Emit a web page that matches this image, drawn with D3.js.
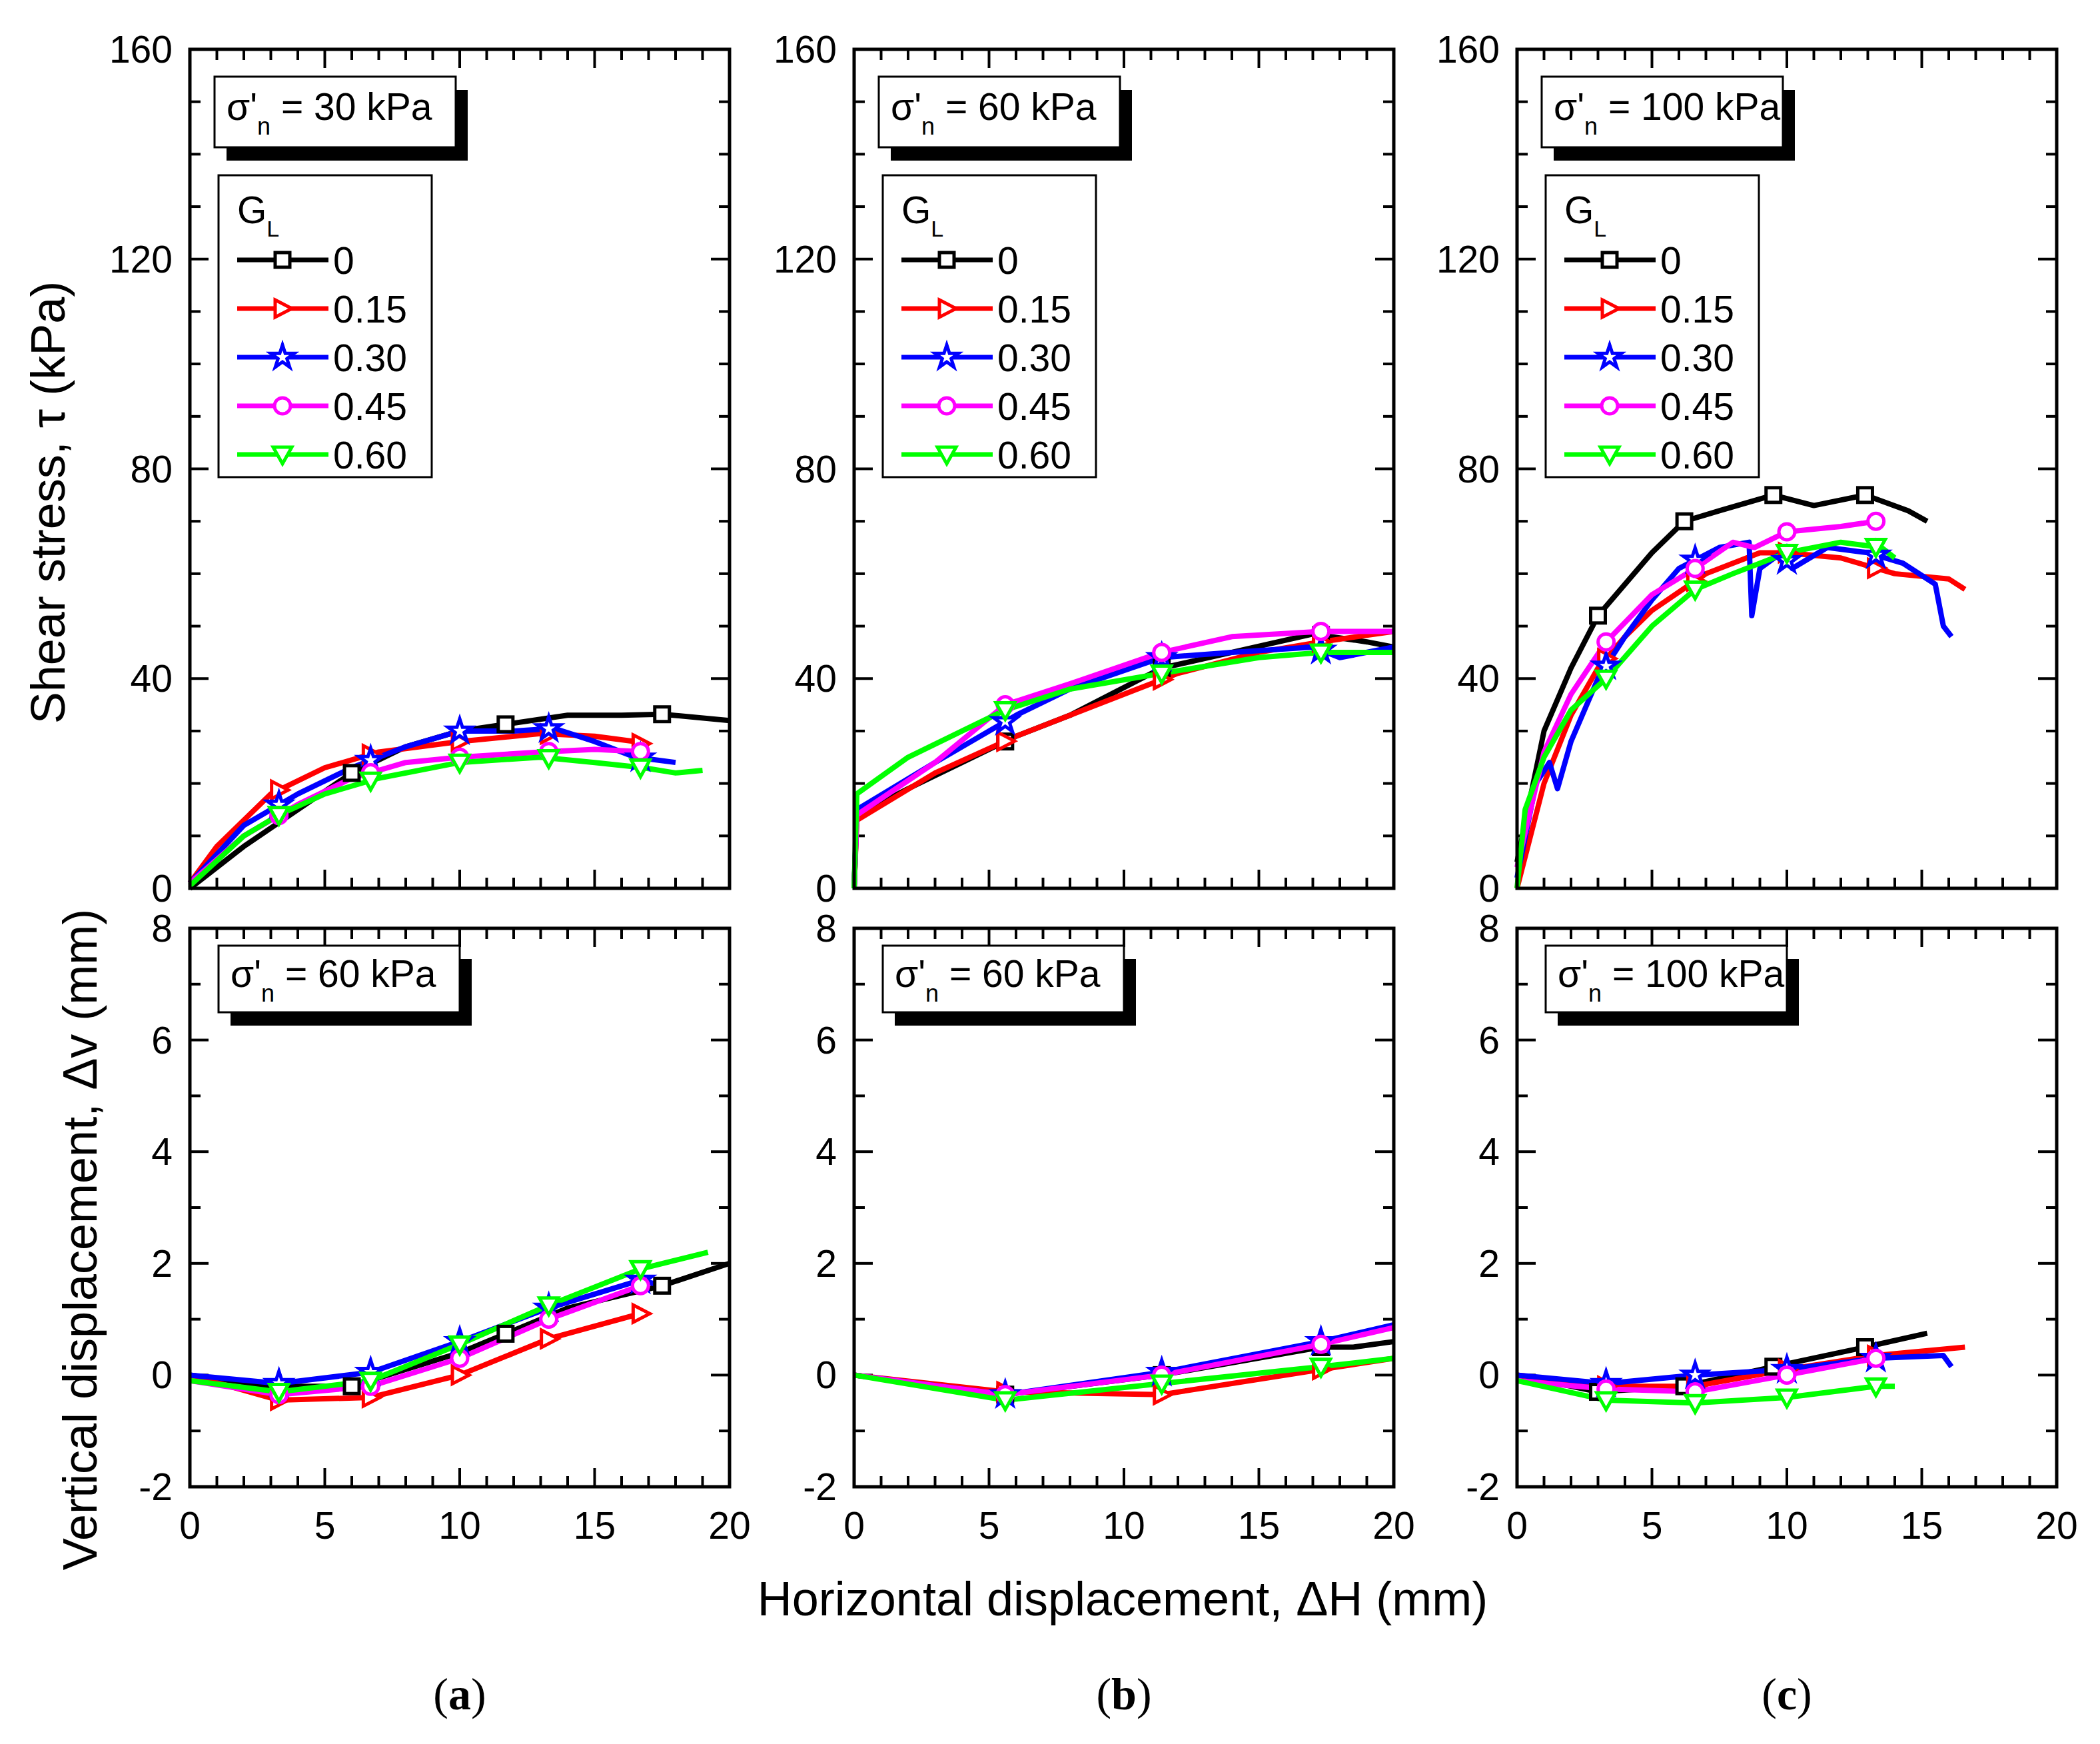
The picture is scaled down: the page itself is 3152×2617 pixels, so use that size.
<!DOCTYPE html>
<html><head><meta charset="utf-8">
<script src="https://cdn.jsdelivr.net/npm/d3@7"></script>
<style>body{margin:0;background:#fff}text{font-family:"Liberation Sans",Arial,sans-serif}</style>
</head><body>
<svg id="chart" width="3152" height="2617"></svg>
<script>
// series meta
const gl = ["0", "0.15", "0.30", "0.45", "0.60"];
const colors = ["#000000", "#ff0000", "#0000ff", "#ff00ff", "#00ff00"];
const symbols = ["square", "triR", "star", "circle", "triD"];
const panelLetters = ["a", "b", "c"];
const stressLabels = ["30", "60", "100"];
const bottomLabels = ["60", "60", "100"];

// shear stress curves [x, tau]
const tauA = [
  [[0,0],[2,8],[4,15],[6,22],[8,27],[10,30],[12,31.5],[14,33],[16,33],[17.5,33.2],[20,32]],
  [[0,1],[1,8],[3,18],[5,23],[7,26],[10,28],[13,29.5],[15,29],[16.5,28],[17,27]],
  [[0,1],[2,12],[4,18],[6,23],[8,27],[10,30],[12,30],[13.5,30.5],[15,28],[16.5,25],[18,24]],
  [[0,1],[2,10],[4,16],[6,21],[8,24],[10,25],[13,26],[15,26.5],[17,26]],
  [[0,0.5],[2,10],[3.3,14],[5,18],[7,21],[10,24],[13,25],[15,24],[16.8,23],[18,22],[19,22.5]]
];
const tauB = [
  [[0,0],[0.1,14],[2,19],[4,24],[6,29],[8,33],[11.4,42],[14,45],[17,48.5],[19,47],[20,46]],
  [[0,0],[0.1,13],[3,22],[6,29],[9,35],[12,41],[15,45],[17.3,47],[20,49]],
  [[0,0],[0.1,15],[3,24],[6,33],[8,38],[11.4,44],[14,45],[17,46],[18,44],[20,46]],
  [[0,0],[0.1,14],[3,24],[5.6,35],[8,39],[11.4,45],[14,48],[17.3,49],[20,49]],
  [[0,0],[0.1,18],[2,25],[4,30],[5.6,34],[8,38],[11.4,41],[15,44],[17.3,45],[20,45]]
];
const tauC = [
  [[0,5],[1,30],[2,42],[3,52],[4,58],[5,64],[6.2,70],[7.5,72],[9.5,75],[11,73],[12.9,75],[14.5,72],[15.2,70]],
  [[0,0],[1,20],[2,33],[3,42],[4,48],[5,53],[7,60],[9,64],[10,64],[12,63],[14,60],[16,59],[16.6,57]],
  [[0,2],[0.7,20],[1.2,24],[1.5,19],[2,28],[3,40],[4,48],[5,55],[6,61],[7.5,65],[8.6,66],[8.7,52],[9,61],[9.8,64],[10.2,61],[11.5,65],[13,64],[14.3,62],[15.5,58],[15.8,50],[16.1,48]],
  [[0,4],[1,26],[2,37],[3.3,47],[5,56],[6.6,61],[8,66],[8.8,65],[10,68],[12,69],[13.3,70]],
  [[0,0],[0.3,15],[1,25],[2,34],[3.3,40],[5,50],[6.6,57],[8,60],[10,64],[12,66],[13.5,65],[14,63]]
];
// vertical displacement curves [x, dv]
const dvA = [
  [[0,0],[3,-0.2],[6,-0.2],[8,0.1],[10,0.4],[12,0.8],[14,1.2],[17.5,1.6],[20,2.0]],
  [[0,0],[3.3,-0.45],[6.7,-0.4],[10,0],[13.3,0.65],[16.7,1.1]],
  [[0,0],[3.3,-0.15],[6.7,0.05],[10,0.6],[13.3,1.2],[16.7,1.7],[17.5,1.6]],
  [[0,-0.1],[3.3,-0.35],[6.7,-0.2],[10,0.3],[13.3,1.0],[16.7,1.6]],
  [[0,-0.1],[3.3,-0.3],[6.7,-0.1],[10,0.55],[13.3,1.25],[16.7,1.9],[19.2,2.2]]
];
const dvB = [
  [[0,0],[5.6,-0.35],[11.4,0],[17.3,0.5],[18.5,0.5],[20,0.6]],
  [[0,0],[5.6,-0.3],[11.4,-0.35],[17.3,0.1],[20,0.3]],
  [[0,0],[5.6,-0.35],[11.4,0.05],[17.3,0.6],[20,0.9]],
  [[0,0],[5.6,-0.35],[11.4,0],[17.3,0.55],[20,0.85]],
  [[0,0],[5.6,-0.45],[11.4,-0.15],[17.3,0.15],[20,0.3]]
];
const dvC = [
  [[0,0],[3,-0.3],[6.2,-0.2],[9.5,0.15],[12.9,0.5],[15.2,0.75]],
  [[0,0],[3.3,-0.2],[6.6,-0.2],[10,0.1],[13.3,0.35],[16.6,0.5]],
  [[0,0],[3.3,-0.15],[6.6,0],[10,0.1],[13.3,0.3],[15.8,0.35],[16.1,0.15]],
  [[0,-0.1],[3.3,-0.25],[6.6,-0.3],[10,0],[13.3,0.3]],
  [[0,-0.1],[3.3,-0.45],[6.6,-0.5],[10,-0.4],[13.3,-0.2],[14,-0.2]]
];
// marker x positions per panel and series
const markA = [[6,11.7,17.5],[3.3,6.7,10,13.3,16.7],[3.3,6.7,10,13.3,16.7],[3.3,6.7,10,13.3,16.7],[3.3,6.7,10,13.3,16.7]];
const markB = [[5.6,11.4,17.3],[5.6,11.4,17.3],[5.6,11.4,17.3],[5.6,11.4,17.3],[5.6,11.4,17.3]];
const markC = [[3,6.2,9.5,12.9],[3.3,6.6,10,13.3],[3.3,6.6,10,13.3],[3.3,6.6,10,13.3],[3.3,6.6,10,13.3]];

const tauSets = [tauA, tauB, tauC];
const dvSets = [dvA, dvB, dvC];
const markSets = [markA, markB, markC];

const svg = d3.select("#chart");
const panelX = [285, 1282, 2277];
const pw = 810;
const topY = 74, topH = 1259;
const botY = 1393, botH = 838;

function interp(pts, x) {
  for (let i = 1; i < pts.length; i++) {
    if (x <= pts[i][0]) {
      const a = pts[i-1], b = pts[i];
      return a[1] + (b[1]-a[1]) * (x-a[0]) / (b[0]-a[0]);
    }
  }
  return pts[pts.length-1][1];
}

function marker(g, type, x, y, color) {
  const s = 11;
  let el;
  if (type === "square") el = g.append("rect").attr("x", x-s).attr("y", y-s).attr("width", 2*s).attr("height", 2*s);
  else if (type === "circle") el = g.append("circle").attr("cx", x).attr("cy", y).attr("r", s+1);
  else if (type === "triR") el = g.append("path").attr("d", `M${x-s},${y-s-2}L${x+s+3},${y}L${x-s},${y+s+2}Z`);
  else if (type === "triD") el = g.append("path").attr("d", `M${x-s-3},${y-s}L${x+s+3},${y-s}L${x},${y+s+3}Z`);
  else el = g.append("path").attr("d", d3.symbol(d3.symbolStar, 380)()).attr("transform", `translate(${x},${y})`);
  el.attr("fill", "white").attr("stroke", color).attr("stroke-width", 5);
}

function sigmaText(g, x, y, val) {
  const t = g.append("text").attr("x", x).attr("y", y).attr("font-size", 57);
  t.append("tspan").text("σ'");
  t.append("tspan").attr("font-size", 36).attr("dy", 22).text("n");
  t.append("tspan").attr("dy", -22).text(" = " + val + " kPa");
}

function labelBox(g, x, y, w, h, val) {
  g.append("rect").attr("x", x+18).attr("y", y+20).attr("width", w).attr("height", h).attr("fill", "black");
  g.append("rect").attr("x", x).attr("y", y).attr("width", w).attr("height", h).attr("fill", "white").attr("stroke", "black").attr("stroke-width", 3);
  sigmaText(g, x+18, y+h/2+12, val);
}

function drawPanel(px, py, ph, ydom, yMajor, yMinor, series, marks, isTop) {
  const x = d3.scaleLinear().domain([0, 20]).range([px, px+pw]);
  const y = d3.scaleLinear().domain(ydom).range([py+ph, py]);
  const g = svg.append("g");
  // ticks on all four sides, inward
  const tk = g.append("g").attr("stroke", "black").attr("stroke-width", 4);
  d3.range(0, 21, 1).forEach(v => {
    const L = v % 5 === 0 ? 28 : 16;
    tk.append("line").attr("x1", x(v)).attr("x2", x(v)).attr("y1", py+ph).attr("y2", py+ph-L);
    tk.append("line").attr("x1", x(v)).attr("x2", x(v)).attr("y1", py).attr("y2", py+L);
  });
  d3.range(ydom[0], ydom[1]+0.001, yMinor).forEach(v => {
    const major = Math.abs(Math.round(v/yMajor)*yMajor - v) < 1e-6;
    const L = major ? 28 : 16;
    tk.append("line").attr("x1", px).attr("x2", px+L).attr("y1", y(v)).attr("y2", y(v));
    tk.append("line").attr("x1", px+pw).attr("x2", px+pw-L).attr("y1", y(v)).attr("y2", y(v));
  });
  // tick labels
  d3.range(ydom[0], ydom[1]+0.001, yMajor).forEach(v => {
    g.append("text").attr("x", px-26).attr("y", y(v)+20).attr("text-anchor", "end").attr("font-size", 57).text(v);
  });
  if (!isTop) {
    d3.range(0, 21, 5).forEach(v => {
      g.append("text").attr("x", x(v)).attr("y", py+ph+78).attr("text-anchor", "middle").attr("font-size", 57).text(v);
    });
  }
  const line = d3.line().x(d => x(d[0])).y(d => y(d[1]));
  series.forEach((s, i) => {
    g.append("path").attr("d", line(s)).attr("fill", "none").attr("stroke", colors[i]).attr("stroke-width", 8).attr("stroke-linejoin", "round");
  });
  series.forEach((s, i) => {
    marks[i].forEach(mx => marker(g, symbols[i], x(mx), y(interp(s, mx)), colors[i]));
  });
  g.append("rect").attr("x", px).attr("y", py).attr("width", pw).attr("height", ph).attr("fill", "none").attr("stroke", "black").attr("stroke-width", 5);
  return g;
}

panelX.forEach((px, p) => {
  const gt = drawPanel(px, topY, topH, [0, 160], 40, 10, tauSets[p], markSets[p], true);
  labelBox(gt, px+37, 115, 362, 106, stressLabels[p]);
  // legend
  const lx = px+43, ly = 263;
  gt.append("rect").attr("x", lx).attr("y", ly).attr("width", 320).attr("height", 453).attr("fill", "white").attr("stroke", "black").attr("stroke-width", 3);
  const t = gt.append("text").attr("x", lx+28).attr("y", ly+72).attr("font-size", 57);
  t.append("tspan").text("G");
  t.append("tspan").attr("font-size", 34).attr("dy", 20).text("L");
  gl.forEach((name, i) => {
    const yy = ly + 127 + i*73;
    gt.append("line").attr("x1", lx+28).attr("x2", lx+165).attr("y1", yy).attr("y2", yy).attr("stroke", colors[i]).attr("stroke-width", 7);
    marker(gt, symbols[i], lx+96, yy, colors[i]);
    gt.append("text").attr("x", lx+172).attr("y", yy+21).attr("font-size", 57).text(name);
  });
  const gb = drawPanel(px, botY, botH, [-2, 8], 2, 1, dvSets[p], markSets[p], false);
  labelBox(gb, px+43, 1419, 362, 100, bottomLabels[p]);
  svg.append("text").attr("x", px+pw/2).attr("y", 2565).attr("text-anchor", "middle")
    .style("font-family", "'Liberation Serif', serif").attr("font-size", 68)
    .html("(<tspan font-weight='bold'>" + panelLetters[p] + "</tspan>)");
});

svg.append("text").attr("transform", "translate(97,754) rotate(-90)").attr("text-anchor", "middle").attr("font-size", 72).text("Shear stress, τ (kPa)");
svg.append("text").attr("transform", "translate(145,1860) rotate(-90)").attr("text-anchor", "middle").attr("font-size", 72).text("Vertical displacement, Δv (mm)");
svg.append("text").attr("x", 1685).attr("y", 2424).attr("text-anchor", "middle").attr("font-size", 72).text("Horizontal displacement, ΔH (mm)");
</script>
</body></html>
